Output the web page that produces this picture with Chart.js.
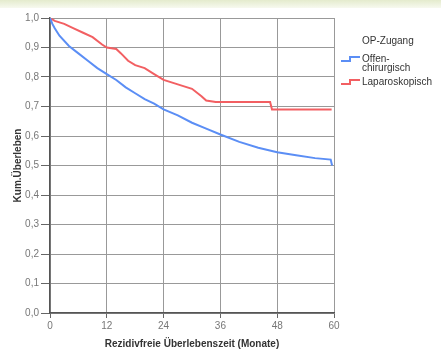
<!DOCTYPE html>
<html>
<head>
<meta charset="utf-8">
<script src="https://cdn.jsdelivr.net/npm/chart.js@4"></script>
<style>
  html, body { margin: 0; padding: 0; background: #fff; }
  #wrap { position: relative; width: 441px; height: 357px; }
  #band { position: absolute; left: 0; top: 0; width: 441px; height: 8px;
          background: linear-gradient(to bottom, #e4ebcd, #f7f9ef); }
  canvas { position: absolute; left: 0; top: 0; }
</style>
</head>
<body>
<div id="wrap">
  <div id="band"></div>
  <canvas id="km" width="441" height="357"></canvas>
</div>
<script>
// Kaplan-Meier Schätzungen
const offenMonate = [0, 0.5, 1, 2, 4, 6, 8, 10, 12, 14, 16, 18, 20, 22, 24, 27, 30, 33, 36, 40, 44, 48, 52, 56, 59.3, 59.6];
const offenWerte  = [1.0, 0.98, 0.965, 0.94, 0.905, 0.88, 0.855, 0.83, 0.81, 0.79, 0.765, 0.745, 0.725, 0.71, 0.69, 0.67, 0.645, 0.625, 0.605, 0.58, 0.56, 0.545, 0.535, 0.525, 0.52, 0.5];

const laparoMonate = [0, 1, 3, 5, 7, 9, 11, 12, 14, 15, 16.5, 18, 20, 22, 24, 26, 28, 30, 32, 33, 35, 46.5, 46.9, 59.5];
const laparoWerte  = [1.0, 0.99, 0.98, 0.965, 0.95, 0.935, 0.91, 0.9, 0.895, 0.88, 0.855, 0.84, 0.83, 0.81, 0.79, 0.78, 0.77, 0.76, 0.735, 0.72, 0.715, 0.715, 0.69, 0.69];

const gruppen = ["Offen-\nchirurgisch", "Laparoskopisch"];
const farben = ["#5b8ef5", "#f25f62"];
const legendenTitel = "OP-Zugang";

function toPoints(xs, ys) {
  return xs.map((x, i) => ({ x: x, y: ys[i] }));
}

const fontName = "'Liberation Sans', Arial, sans-serif";

const legendPlugin = {
  id: 'opLegend',
  afterDraw(chart) {
    const ctx = chart.ctx;
    ctx.save();
    ctx.font = "10px " + fontName;
    ctx.fillStyle = "#333";
    ctx.textBaseline = "middle";
    ctx.fillText(legendenTitel, 362, 41);

    const rows = [[59, 68], [82]];
    gruppen.forEach((g, i) => {
      const lines = g.split("\n");
      const y0 = rows[i][0];
      // kleines Stufen-Symbol
      ctx.strokeStyle = farben[i];
      ctx.lineWidth = 2;
      ctx.beginPath();
      ctx.moveTo(341, y0 + 2);
      ctx.lineTo(350, y0 + 2);
      ctx.lineTo(350, y0 - 2);
      ctx.lineTo(360, y0 - 2);
      ctx.stroke();
      ctx.fillStyle = "#333";
      lines.forEach((t, j) => ctx.fillText(t, 362, rows[i][j]));
    });
    ctx.restore();
  }
};

new Chart(document.getElementById('km'), {
  type: 'line',
  data: {
    datasets: [
      {
        label: gruppen[0],
        data: toPoints(offenMonate, offenWerte),
        borderColor: farben[0],
        borderWidth: 2,
        pointRadius: 0,
        tension: 0
      },
      {
        label: gruppen[1],
        data: toPoints(laparoMonate, laparoWerte),
        borderColor: farben[1],
        borderWidth: 2,
        pointRadius: 0,
        tension: 0
      }
    ]
  },
  options: {
    responsive: false,
    animation: false,
    layout: { padding: { left: 0, top: 18, right: 107, bottom: 0 } },
    plugins: {
      legend: { display: false },
      tooltip: { enabled: false }
    },
    scales: {
      x: {
        type: 'linear',
        min: 0,
        max: 60,
        afterFit: s => { s.height = 44; },
        ticks: { stepSize: 12, color: '#777', padding: 2, font: { family: fontName, size: 10 } },
        grid: { color: '#999', tickLength: 5, tickColor: '#666' },
        border: { color: '#555', width: 1.5 },
        title: {
          display: true,
          text: 'Rezidivfreie Überlebenszeit (Monate)',
          color: '#333',
          font: { family: fontName, size: 10, weight: 'bold' },
          padding: { top: 0, bottom: 7 }
        }
      },
      y: {
        min: 0,
        max: 1,
        afterFit: s => { s.width = 50; },
        ticks: {
          stepSize: 0.1,
          color: '#777',
          padding: 2,
          font: { family: fontName, size: 10 },
          callback: v => v.toFixed(1).replace('.', ',')
        },
        grid: { color: '#999', tickLength: 9, tickColor: '#666' },
        border: { color: '#555', width: 1.5 },
        title: {
          display: true,
          text: 'Kum.Überleben',
          color: '#333',
          font: { family: fontName, size: 10, weight: 'bold' },
          padding: { top: 12, bottom: 0 }
        }
      }
    }
  },
  plugins: [legendPlugin]
});
</script>
</body>
</html>
